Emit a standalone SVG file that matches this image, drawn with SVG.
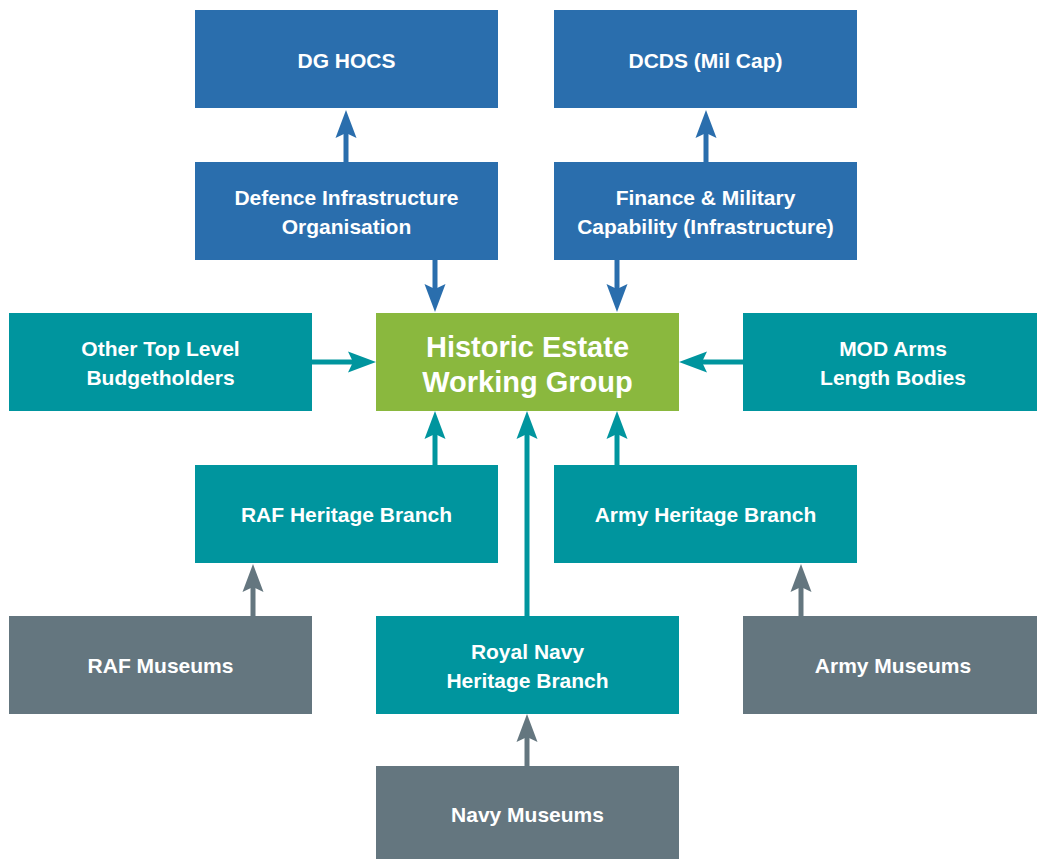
<svg xmlns="http://www.w3.org/2000/svg" width="1037" height="859" viewBox="0 0 1037 859">
<style>
.b{fill:#2a6ead}.t{fill:#00959e}.g{fill:#8ab83e}.m{fill:#64767f}
text{font-family:"Liberation Sans",Arial,sans-serif;font-weight:bold;fill:#fff;text-anchor:middle;font-size:21px}
.big{font-size:29px}
.cb{stroke:#2a6ead}.ct{stroke:#00959e}.cm{stroke:#64767f}
line{stroke-width:5}
</style>
<defs>
<marker id="ab" markerUnits="userSpaceOnUse" markerWidth="30" markerHeight="24" refX="18" refY="0" viewBox="0 -12 30 24" orient="auto"><path d="M0,-10.5 L28,0 L0,10.5 L5,0 Z" fill="#2a6ead"/></marker>
<marker id="at" markerUnits="userSpaceOnUse" markerWidth="30" markerHeight="24" refX="18" refY="0" viewBox="0 -12 30 24" orient="auto"><path d="M0,-10.5 L28,0 L0,10.5 L5,0 Z" fill="#00959e"/></marker>
<marker id="am" markerUnits="userSpaceOnUse" markerWidth="30" markerHeight="24" refX="18" refY="0" viewBox="0 -12 30 24" orient="auto"><path d="M0,-10.5 L28,0 L0,10.5 L5,0 Z" fill="#64767f"/></marker>
</defs>
<g id="connectors">
<line class="cb" x1="346" y1="162" x2="346" y2="120" marker-end="url(#ab)"/>
<line class="cb" x1="706" y1="162" x2="706" y2="120" marker-end="url(#ab)"/>
<line class="cb" x1="435" y1="260" x2="435" y2="302" marker-end="url(#ab)"/>
<line class="cb" x1="617" y1="260" x2="617" y2="302" marker-end="url(#ab)"/>
<line class="ct" x1="312" y1="362" x2="366" y2="362" marker-end="url(#at)"/>
<line class="ct" x1="743" y1="362" x2="689" y2="362" marker-end="url(#at)"/>
<line class="ct" x1="435" y1="465" x2="435" y2="421" marker-end="url(#at)"/>
<line class="ct" x1="527" y1="616" x2="527" y2="421" marker-end="url(#at)"/>
<line class="ct" x1="617" y1="465" x2="617" y2="421" marker-end="url(#at)"/>
<line class="cm" x1="253" y1="616" x2="253" y2="574" marker-end="url(#am)"/>
<line class="cm" x1="527" y1="766" x2="527" y2="724" marker-end="url(#am)"/>
<line class="cm" x1="801" y1="616" x2="801" y2="574" marker-end="url(#am)"/>
</g>
<g id="dg-hocs"><rect class="b" x="195" y="10" width="303" height="98"/><text x="346.5" y="68">DG HOCS</text></g>
<g id="dcds"><rect class="b" x="554" y="10" width="303" height="98"/><text x="705.5" y="68">DCDS (Mil Cap)</text></g>
<g id="dio"><rect class="b" x="195" y="162" width="303" height="98"/><text x="346.5" y="205">Defence Infrastructure</text><text x="346.5" y="234">Organisation</text></g>
<g id="finance"><rect class="b" x="554" y="162" width="303" height="98"/><text x="705.5" y="205">Finance &amp; Military</text><text x="705.5" y="234">Capability (Infrastructure)</text></g>
<g id="other-tlb"><rect class="t" x="9" y="313" width="303" height="98"/><text x="160.5" y="356">Other Top Level</text><text x="160.5" y="385">Budgetholders</text></g>
<g id="hewg"><rect class="g" x="376" y="313" width="303" height="98"/><text class="big" x="527.5" y="357">Historic Estate</text><text class="big" x="527.5" y="392">Working Group</text></g>
<g id="mod-alb"><rect class="t" x="743" y="313" width="294" height="98"/><text x="893" y="356">MOD Arms</text><text x="893" y="385">Length Bodies</text></g>
<g id="raf-heritage"><rect class="t" x="195" y="465" width="303" height="98"/><text x="346.5" y="522">RAF Heritage Branch</text></g>
<g id="army-heritage"><rect class="t" x="554" y="465" width="303" height="98"/><text x="705.5" y="522">Army Heritage Branch</text></g>
<g id="raf-museums"><rect class="m" x="9" y="616" width="303" height="98"/><text x="160.5" y="673">RAF Museums</text></g>
<g id="rn-heritage"><rect class="t" x="376" y="616" width="303" height="98"/><text x="527.5" y="659">Royal Navy</text><text x="527.5" y="688">Heritage Branch</text></g>
<g id="army-museums"><rect class="m" x="743" y="616" width="294" height="98"/><text x="893" y="673">Army Museums</text></g>
<g id="navy-museums"><rect class="m" x="376" y="766" width="303" height="93"/><text x="527.5" y="822">Navy Museums</text></g>
</svg>
